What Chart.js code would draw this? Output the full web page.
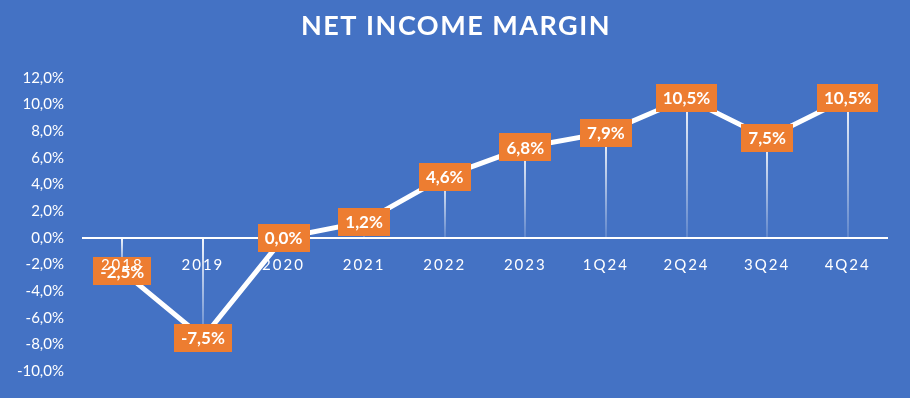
<!DOCTYPE html>
<html>
<head>
<meta charset="utf-8">
<script src="https://cdn.jsdelivr.net/npm/chart.js@4.4.1/dist/chart.umd.min.js"></script>
<style>
  html, body { margin: 0; padding: 0; background: #4472C4; }
  #wrap { width: 910px; height: 398px; }
</style>
</head>
<body>
<div id="wrap"><canvas id="myChart" width="910" height="398"></canvas></div>
<script>
let periods = ['2018', '2019', '2020', '2021', '2022', '2023', '1Q24', '2Q24', '3Q24', '4Q24'];
let margins = [-2.5, -7.5, 0.0, 1.2, 4.6, 6.8, 7.9, 10.5, 7.5, 10.5];
let yMin = -10;
let yMax = 12;
let yStep = 2;
let chartTitle = 'NET INCOME MARGIN';

let orange = '#ED7D31';
let fontName = 'Lato, Carlito, Calibri, sans-serif';

function pct(v){
  return v.toFixed(1).replace('.', ',') + '%';
}

// title drawn by hand so it can get the wide letter spacing
let spacedTitle = {
  id: 'spacedTitle',
  afterDraw(chart){
    let ctx = chart.ctx;
    ctx.save();
    ctx.font = 'bold 27px ' + fontName;
    ctx.letterSpacing = '1.5px';
    ctx.fillStyle = '#ffffff';
    ctx.textAlign = 'center';
    ctx.textBaseline = 'middle';
    ctx.fillText(chartTitle, chart.width / 2 + 1, 26);
    ctx.restore();
  }
};

// x tick labels are letter spaced in the original
let spacedXTicks = {
  id: 'spacedXTicks',
  afterLayout(chart){
    let s = chart.scales.x;
    if (s._spaced) return;
    let orig = s.drawLabels.bind(s);
    s.drawLabels = function(area){
      s.ctx.save();
      s.ctx.letterSpacing = '2px';
      orig(area);
      s.ctx.restore();
    };
    s._spaced = true;
  }
};

// thin fading lines from each point to the zero line
let dropLines = {
  id: 'dropLines',
  beforeDatasetsDraw(chart){
    let ctx = chart.ctx;
    let y0 = chart.scales.y.getPixelForValue(0);
    let meta = chart.getDatasetMeta(0);
    meta.data.forEach(function(pt){
      let top = Math.min(pt.y, y0);
      let bot = Math.max(pt.y, y0);
      if (bot - top < 1) return;
      let g = ctx.createLinearGradient(0, top, 0, bot);
      g.addColorStop(0, 'rgba(255,255,255,0.95)');
      g.addColorStop(1, 'rgba(255,255,255,0.15)');
      ctx.save();
      ctx.strokeStyle = g;
      ctx.lineWidth = 2;
      ctx.beginPath();
      ctx.moveTo(Math.round(pt.x), top);
      ctx.lineTo(Math.round(pt.x), bot);
      ctx.stroke();
      ctx.restore();
    });
  }
};

// orange boxes with the values
let valueLabels = {
  id: 'valueLabels',
  afterDatasetsDraw(chart){
    let ctx = chart.ctx;
    let meta = chart.getDatasetMeta(0);
    ctx.save();
    ctx.font = 'bold 17px ' + fontName;
    ctx.textAlign = 'center';
    ctx.textBaseline = 'middle';
    meta.data.forEach(function(pt, i){
      let txt = pct(margins[i]);
      let w = ctx.measureText(txt).width + 14;
      let h = 28;
      ctx.fillStyle = orange;
      ctx.fillRect(Math.round(pt.x - w / 2), Math.round(pt.y - h / 2), Math.round(w), h);
      ctx.fillStyle = '#ffffff';
      ctx.fillText(txt, pt.x, pt.y + 1);
    });
    ctx.restore();
  }
};

let ctx = document.getElementById('myChart').getContext('2d');
let myChart = new Chart(ctx, {
  type: 'line',
  data: {
    labels: periods,
    datasets: [{
      label: 'Net income margin',
      data: margins,
      borderColor: '#ffffff',
      borderWidth: 5,
      pointRadius: 0,
      tension: 0,
      fill: false
    }]
  },
  options: {
    responsive: false,
    animation: false,
    layout: {
      padding: { left: 0, right: 22, top: 78, bottom: 23 }
    },
    plugins: {
      legend: { display: false },
      tooltip: { enabled: false },
      title: { display: false }
    },
    scales: {
      x: {
        position: { y: 0 },
        offset: true,
        grid: { display: false, drawTicks: false },
        border: { display: false },
        ticks: {
          z: 1,
          color: '#ffffff',
          font: { family: fontName, size: 15 },
          padding: 18,
          maxRotation: 0,
          autoSkip: false
        }
      },
      y: {
        min: yMin,
        max: yMax,
        grid: {
          drawTicks: false,
          lineWidth: 2,
          color: function(c){ return c.tick && c.tick.value === 0 ? '#ffffff' : 'rgba(0,0,0,0)'; }
        },
        border: { display: false },
        afterFit(scale){ scale.width = 82; },
        ticks: {
          stepSize: yStep,
          color: '#ffffff',
          padding: 18,
          font: { family: fontName, size: 15 },
          callback: function(v){ return pct(v); }
        }
      }
    }
  },
  plugins: [spacedXTicks, dropLines, valueLabels, spacedTitle]
});
</script>
</body>
</html>
